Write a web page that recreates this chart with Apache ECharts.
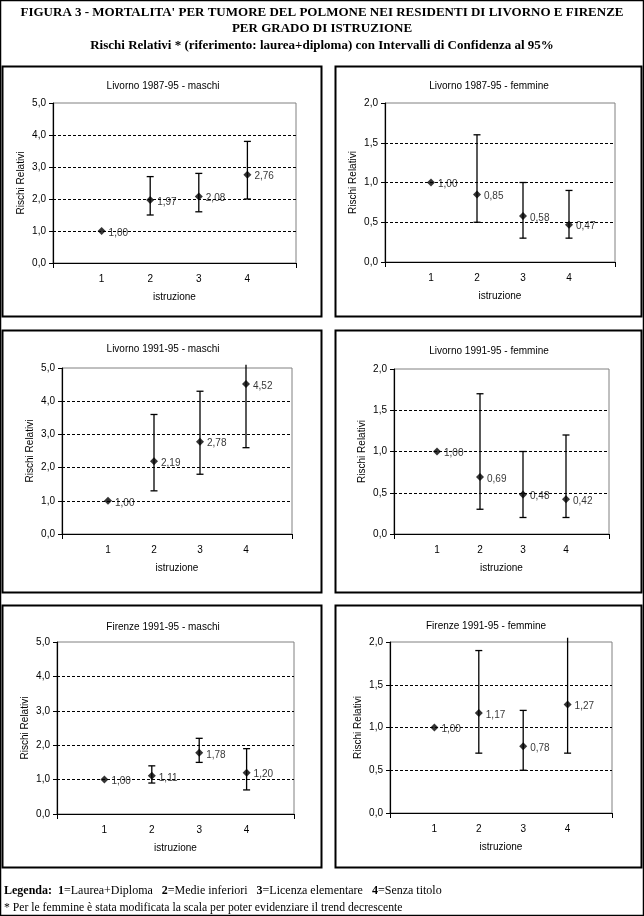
<!DOCTYPE html>
<html><head><meta charset="utf-8">
<script src="https://cdn.jsdelivr.net/npm/echarts@6/dist/echarts.min.js"></script>
<style>html,body{margin:0;padding:0;background:#fff}#c{width:644px;height:916px}</style>
</head><body><div id="c"></div>
<script>
// ---- data ----
const categories = [1, 2, 3, 4];
const xTickLabels = [1, 2, 3, 4];
const titleLines = [
  "FIGURA 3 - MORTALITA' PER TUMORE DEL POLMONE NEI RESIDENTI DI LIVORNO E FIRENZE",
  "PER GRADO DI ISTRUZIONE",
  "Rischi Relativi * (riferimento: laurea+diploma) con Intervalli di Confidenza al 95%"
];
const panelTitles = ["Livorno 1987-95 - maschi", "Livorno 1987-95 - femmine",
  "Livorno 1991-95 - maschi", "Livorno 1991-95 - femmine",
  "Firenze 1991-95 - maschi", "Firenze 1991-95 - femmine"];
const yAxisName = "Rischi Relativi";
const xAxisName = "istruzione";
const yMaxMaschi = 5, yStepMaschi = 1;
const yMaxFemmine = 2, yStepFemmine = 0.5;

const liv8795M_rr = [1.00, 1.97, 2.08, 2.76];
const liv8795M_lo = [null, 1.5, 1.6, 2.0];
const liv8795M_hi = [null, 2.7, 2.8, 3.8];

const liv8795F_rr = [1.00, 0.85, 0.58, 0.47];
const liv8795F_lo = [null, 0.5, 0.3, 0.3];
const liv8795F_hi = [null, 1.6, 1.0, 0.9];

const liv9195M_rr = [1.00, 2.19, 2.78, 4.52];
const liv9195M_lo = [null, 1.3, 1.8, 2.6];
const liv9195M_hi = [null, 3.6, 4.3, 5.1];

const liv9195F_rr = [1.00, 0.69, 0.48, 0.42];
const liv9195F_lo = [null, 0.3, 0.2, 0.2];
const liv9195F_hi = [null, 1.7, 1.0, 1.2];

const fir9195M_rr = [1.00, 1.11, 1.78, 1.20];
const fir9195M_lo = [null, 0.9, 1.5, 0.7];
const fir9195M_hi = [null, 1.4, 2.2, 1.9];

const fir9195F_rr = [1.00, 1.17, 0.78, 1.27];
const fir9195F_lo = [null, 0.7, 0.5, 0.7];
const fir9195F_hi = [null, 1.9, 1.2, 2.05];

const legendLine2 = "* Per le femmine è stata modificata la scala per poter evidenziare il trend decrescente";

// ---- layout ----
const panels = [
  {box:[2.5,66.5,319,250], grid:{left:53,top:103,width:243,height:160}, title:[163,81], rr:liv8795M_rr, lo:liv8795M_lo, hi:liv8795M_hi, max:yMaxMaschi, step:yStepMaschi},
  {box:[335.5,66.5,306,250], grid:{left:385,top:103,width:230,height:159}, title:[489,81], rr:liv8795F_rr, lo:liv8795F_lo, hi:liv8795F_hi, max:yMaxFemmine, step:yStepFemmine},
  {box:[2.5,330.5,319,262], grid:{left:62,top:368,width:230,height:166}, title:[163,344], rr:liv9195M_rr, lo:liv9195M_lo, hi:liv9195M_hi, max:yMaxMaschi, step:yStepMaschi},
  {box:[335.5,330.5,306,262], grid:{left:394,top:369,width:215,height:165}, title:[489,346], rr:liv9195F_rr, lo:liv9195F_lo, hi:liv9195F_hi, max:yMaxFemmine, step:yStepFemmine},
  {box:[2.5,605.5,319,262], grid:{left:57,top:642,width:237,height:172}, title:[163,622], rr:fir9195M_rr, lo:fir9195M_lo, hi:fir9195M_hi, max:yMaxMaschi, step:yStepMaschi},
  {box:[335.5,605.5,306,262], grid:{left:390,top:642,width:222,height:171}, title:[486,621], rr:fir9195F_rr, lo:fir9195F_lo, hi:fir9195F_hi, max:yMaxFemmine, step:yStepFemmine}
];

const sans = "'Liberation Sans', Arial, sans-serif";
const serif = "'Liberation Serif', 'Times New Roman', serif";
const fmt = v => v.toFixed(1).replace('.', ',');

const option = {
  backgroundColor: '#fff',
  animation: false,
  title: [], grid: [], xAxis: [], yAxis: [], series: [],
  graphic: []
};

// outer frame
option.graphic.push({type:'rect', shape:{x:0.5,y:0.5,width:643,height:915}, style:{fill:'none', stroke:'#000', lineWidth:1.5}, silent:true});
// main title
titleLines.forEach((t, i) => {
  option.graphic.push({type:'text', x:322, y:[13,29,46][i], style:{text:t, font:'bold 13px ' + serif, fill:'#000', textAlign:'center', textVerticalAlign:'middle'}});
});
// legend
option.graphic.push({type:'text', x:4, y:891, style:{
  text:'{b|Legenda:}  {b|1}=Laurea+Diploma   {b|2}=Medie inferiori   {b|3}=Licenza elementare   {b|4}=Senza titolo',
  rich:{b:{font:'bold 12px ' + serif, fill:'#000'}},
  font:'12px ' + serif, fill:'#000', textVerticalAlign:'middle'}});
option.graphic.push({type:'text', x:4, y:908, style:{text:legendLine2, font:'11.7px ' + serif, fill:'#000', textVerticalAlign:'middle'}});

panels.forEach((p, i) => {
  option.graphic.push({type:'rect', shape:{x:p.box[0], y:p.box[1], width:p.box[2], height:p.box[3]}, style:{fill:'none', stroke:'#000', lineWidth:2}, silent:true});
  option.title.push({text:panelTitles[i], left:p.title[0], top:p.title[1], textAlign:'center',
    textStyle:{fontFamily:sans, fontSize:10, fontWeight:'normal', color:'#000'}, padding:0});
  option.grid.push(Object.assign({show:true, borderColor:'#808080', borderWidth:1, backgroundColor:'#fff'}, p.grid));
  option.xAxis.push({
    type:'value', gridIndex:i, min:0, max:5, interval:1,
    name:xAxisName, nameLocation:'middle', nameGap:29,
    nameTextStyle:{fontFamily:sans, fontSize:10, color:'#000'},
    axisLine:{show:true, onZero:false, lineStyle:{color:'#000', width:1.2}},
    axisTick:{show:true, length:5, customValues:[0,5], lineStyle:{color:'#000'}},
    axisLabel:{customValues:xTickLabels, margin:11, fontFamily:sans, fontSize:10, color:'#000'},
    splitLine:{show:false}
  });
  option.yAxis.push({
    type:'value', gridIndex:i, min:0, max:p.max, interval:p.step,
    name:yAxisName, nameLocation:'middle', nameGap:27, nameRotate:90,
    nameTextStyle:{fontFamily:sans, fontSize:10, color:'#000'},
    axisLine:{show:true, onZero:false, lineStyle:{color:'#000', width:1.2}},
    axisTick:{show:true, length:4, lineStyle:{color:'#000'}},
    axisLabel:{formatter:fmt, margin:7, fontFamily:sans, fontSize:10, color:'#000'},
    splitLine:{show:true, showMinLine:false, showMaxLine:false, lineStyle:{color:'#000', type:[3,2], width:1}}
  });
  const errData = [];
  categories.forEach((c, k) => { if (p.lo[k] != null) errData.push([c, p.lo[k], p.hi[k]]); });
  const ymax = p.max;
  option.series.push({
    type:'custom', xAxisIndex:i, yAxisIndex:i, data:errData, z:2, silent:true,
    encode:{x:0, y:[1,2]},
    renderItem:(params, api) => {
      const x = api.value(0), lo = api.value(1), hi = api.value(2);
      const a = api.coord([x, lo]), b = api.coord([x, hi]);
      const style = {stroke:'#000', lineWidth:1.3};
      const ch = [
        {type:'line', shape:{x1:a[0], y1:a[1], x2:b[0], y2:b[1]}, style},
        {type:'line', shape:{x1:a[0]-3.5, y1:a[1], x2:a[0]+3.5, y2:a[1]}, style}
      ];
      if (hi <= ymax) ch.push({type:'line', shape:{x1:b[0]-3.5, y1:b[1], x2:b[0]+3.5, y2:b[1]}, style});
      return {type:'group', children:ch};
    }
  });
  option.series.push({
    type:'scatter', xAxisIndex:i, yAxisIndex:i, z:3, silent:true,
    data:categories.map((c, k) => [c, p.rr[k]]),
    symbol:'diamond', symbolSize:8, itemStyle:{color:'#000'},
    label:{show:true, position:'right', distance:3, offset:[0,2], fontFamily:sans, fontSize:10, color:'#000',
      formatter:d => d.value[1].toFixed(2).replace('.', ',')}
  });
});

const chart = echarts.init(document.getElementById('c'), null, {renderer:'canvas', width:644, height:916});
chart.setOption(option);
</script>
</body></html>
